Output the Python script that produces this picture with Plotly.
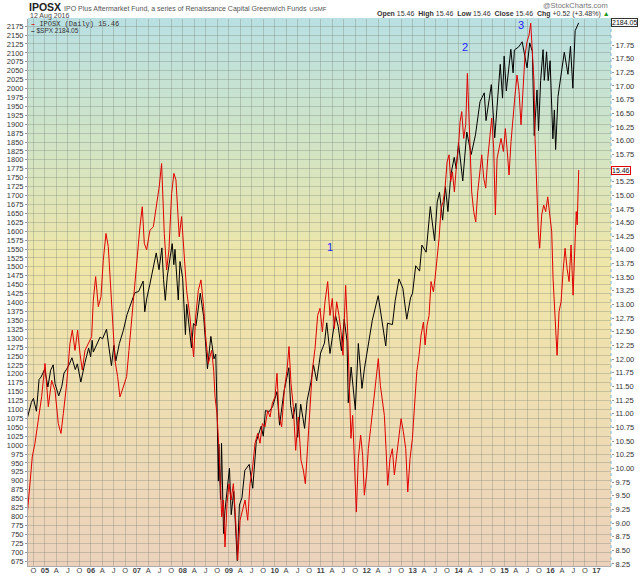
import pandas as pd
import plotly.graph_objects as go

# $SPX closes (left axis)
spx_dates = [
    "2004-08-16", "2004-09-01", "2004-09-15", "2004-10-01", "2004-10-25", "2004-11-15", "2004-12-01", "2004-12-30",
    "2005-01-24", "2005-02-15", "2005-03-07", "2005-03-22", "2005-04-20", "2005-05-15", "2005-06-01", "2005-06-22",
    "2005-07-15", "2005-08-03", "2005-08-30", "2005-09-15", "2005-10-13", "2005-11-15", "2005-12-14", "2005-12-30",
    "2006-01-11", "2006-01-20", "2006-02-15", "2006-03-15", "2006-04-03", "2006-04-21", "2006-05-05", "2006-05-25",
    "2006-06-13", "2006-07-03", "2006-07-18", "2006-08-15", "2006-09-15", "2006-10-15", "2006-11-15", "2006-12-15",
    "2007-01-15", "2007-02-20", "2007-03-05", "2007-03-20", "2007-04-15", "2007-05-15", "2007-06-04", "2007-06-26",
    "2007-07-19", "2007-08-01", "2007-08-15", "2007-08-31", "2007-09-18", "2007-10-09", "2007-10-22", "2007-10-31",
    "2007-11-26", "2007-12-10", "2007-12-31",
    "2008-01-22", "2008-02-01", "2008-02-15", "2008-03-10", "2008-03-26", "2008-04-15", "2008-05-19", "2008-06-15",
    "2008-07-15", "2008-08-11", "2008-09-05", "2008-09-19", "2008-09-29", "2008-10-10", "2008-10-13", "2008-10-27",
    "2008-11-04", "2008-11-20", "2008-12-01", "2008-12-15",
    "2009-01-06", "2009-01-20", "2009-02-09", "2009-03-09", "2009-03-26", "2009-04-15", "2009-05-08", "2009-06-12",
    "2009-07-10", "2009-08-07", "2009-09-15", "2009-10-02", "2009-10-19", "2009-11-15", "2009-12-15",
    "2010-01-19", "2010-02-08", "2010-03-15", "2010-04-23", "2010-05-07", "2010-05-25", "2010-06-18", "2010-07-02",
    "2010-07-26", "2010-08-26", "2010-09-15", "2010-10-15", "2010-11-05", "2010-11-30", "2010-12-31",
    "2011-01-31", "2011-02-18", "2011-03-16", "2011-04-29", "2011-05-20", "2011-06-15", "2011-07-07", "2011-07-29",
    "2011-08-08", "2011-08-31", "2011-09-22", "2011-10-03", "2011-10-27", "2011-11-25", "2011-12-15",
    "2012-01-15", "2012-02-15", "2012-04-02", "2012-04-23", "2012-06-01", "2012-06-15", "2012-07-24", "2012-08-15",
    "2012-09-14", "2012-10-15", "2012-11-15", "2012-12-15", "2012-12-31",
    "2013-01-25", "2013-02-25", "2013-03-15", "2013-04-18", "2013-05-21", "2013-06-24", "2013-07-15", "2013-08-02",
    "2013-08-27", "2013-09-18", "2013-10-08", "2013-10-31", "2013-11-27", "2013-12-13", "2013-12-31",
    "2014-02-03", "2014-03-07", "2014-04-11", "2014-05-15", "2014-06-20", "2014-07-24", "2014-08-07", "2014-09-18",
    "2014-10-15", "2014-11-28", "2014-12-16", "2014-12-29",
    "2015-01-15", "2015-02-20", "2015-03-10", "2015-03-20", "2015-04-24", "2015-05-21", "2015-06-15", "2015-06-29",
    "2015-07-20", "2015-08-10", "2015-08-25", "2015-09-16", "2015-09-28", "2015-10-15", "2015-11-03", "2015-11-13",
    "2015-12-01", "2015-12-14", "2015-12-29",
    "2016-01-20", "2016-02-01", "2016-02-11", "2016-03-01", "2016-03-15", "2016-04-20", "2016-05-19", "2016-06-08",
    "2016-06-27", "2016-07-15", "2016-08-12",
]
spx_close = [
    1079, 1105, 1120, 1131, 1095, 1184, 1191, 1213,
    1163, 1210, 1225, 1172, 1138, 1165, 1202, 1213,
    1228, 1245, 1212, 1228, 1177, 1232, 1272, 1248,
    1294, 1261, 1280, 1303, 1298, 1311, 1325, 1272,
    1223, 1280, 1236, 1285, 1321, 1366, 1397, 1427,
    1431, 1460, 1374, 1410, 1452, 1501, 1539, 1492,
    1553, 1465, 1406, 1474, 1519, 1565, 1506, 1549,
    1407, 1515, 1468,
    1310, 1395, 1349, 1273, 1341, 1334, 1426, 1360,
    1214, 1305, 1242, 1255, 1106, 899, 1003, 848,
    1005, 752, 816, 868,
    935, 805, 870, 676, 832, 852, 929, 946,
    879, 1010, 1053, 1025, 1097, 1093, 1108,
    1150, 1056, 1150, 1217, 1111, 1074, 1117, 1022,
    1115, 1047, 1125, 1176, 1225, 1180, 1258,
    1286, 1343, 1257, 1364, 1333, 1265, 1353, 1292,
    1119, 1219, 1130, 1099, 1285, 1159, 1216,
    1290, 1350, 1419, 1366, 1278, 1342, 1338, 1405,
    1466, 1440, 1353, 1413, 1426,
    1503, 1488, 1561, 1541, 1669, 1573, 1682, 1709,
    1631, 1725, 1655, 1757, 1807, 1775, 1848,
    1741, 1878, 1815, 1870, 1963, 1988, 1910, 2011,
    1862, 2068, 1973, 2091,
    1993, 2110, 2044, 2108, 2117, 2131, 2084, 2058,
    2128, 2104, 1868, 1996, 1882, 2023, 2109, 2023,
    2103, 2022, 2078,
    1859, 1940, 1829, 1978, 2016, 2102, 2040, 2119,
    2001, 2162, 2184.05,
]

# IPOSX (right axis): time as decimal year, value in $
iposx_t = [
    2004.623, 2004.674, 2004.724, 2004.782, 2004.855, 2004.927, 2005.000, 2005.073, 2005.145, 2005.218,
    2005.290, 2005.348, 2005.399, 2005.472, 2005.544, 2005.595, 2005.653, 2005.711, 2005.762, 2005.812,
    2005.871, 2005.943, 2006.016, 2006.052, 2006.103, 2006.161, 2006.219, 2006.269, 2006.328, 2006.378,
    2006.422, 2006.465, 2006.523, 2006.581, 2006.632, 2006.705, 2006.777, 2006.828, 2006.886, 2006.944,
    2006.995, 2007.067, 2007.118, 2007.162, 2007.213, 2007.285, 2007.358, 2007.430, 2007.488, 2007.539,
    2007.597, 2007.648, 2007.699, 2007.757, 2007.807, 2007.851, 2007.887, 2007.923, 2007.974, 2008.032,
    2008.083, 2008.156, 2008.206, 2008.235, 2008.279, 2008.337, 2008.395, 2008.453, 2008.497, 2008.555,
    2008.627, 2008.671, 2008.700, 2008.743, 2008.787, 2008.816, 2008.845, 2008.881, 2008.917, 2008.961,
    2009.004, 2009.048, 2009.099, 2009.149, 2009.193, 2009.244, 2009.295, 2009.353, 2009.411, 2009.461,
    2009.512, 2009.570, 2009.628, 2009.679, 2009.730, 2009.788, 2009.846, 2009.897, 2009.947, 2010.005,
    2010.049, 2010.092, 2010.150, 2010.208, 2010.267, 2010.310, 2010.354, 2010.404, 2010.455, 2010.513,
    2010.571, 2010.622, 2010.666, 2010.716, 2010.767, 2010.818,
    2010.876, 2010.934, 2010.985, 2011.036, 2011.094, 2011.152, 2011.202, 2011.253, 2011.297, 2011.348,
    2011.398, 2011.442, 2011.485, 2011.543, 2011.587, 2011.623, 2011.659, 2011.696, 2011.732, 2011.776,
    2011.819, 2011.870, 2011.913, 2011.950, 2012.000, 2012.037, 2012.087, 2012.145, 2012.196, 2012.254,
    2012.298, 2012.341, 2012.385, 2012.421, 2012.457, 2012.508, 2012.559, 2012.602, 2012.653, 2012.704,
    2012.748, 2012.798, 2012.849, 2012.893, 2012.943, 2012.994, 2013.038, 2013.089, 2013.139, 2013.183,
    2013.234, 2013.270, 2013.313, 2013.357, 2013.400, 2013.451, 2013.487, 2013.524, 2013.575, 2013.618,
    2013.662, 2013.705, 2013.749, 2013.792, 2013.828, 2013.865, 2013.908, 2013.959, 2013.995, 2014.032,
    2014.068, 2014.111, 2014.155, 2014.191, 2014.227, 2014.256, 2014.285, 2014.329, 2014.373, 2014.416,
    2014.460, 2014.503, 2014.547, 2014.590, 2014.634, 2014.684, 2014.721, 2014.764, 2014.800, 2014.837,
    2014.880, 2014.924, 2014.975, 2015.018, 2015.054, 2015.098, 2015.141, 2015.185, 2015.229, 2015.272,
    2015.316, 2015.359, 2015.403, 2015.446, 2015.490, 2015.533, 2015.570, 2015.606, 2015.642, 2015.664,
    2015.686, 2015.707, 2015.736, 2015.765, 2015.809, 2015.852, 2015.896, 2015.940, 2015.983, 2016.027,
    2016.056, 2016.085, 2016.114, 2016.143, 2016.186, 2016.230, 2016.273, 2016.317, 2016.360, 2016.404,
    2016.447, 2016.491, 2016.534, 2016.560, 2016.580, 2016.600, 2016.613,
]
iposx_close = [
    9.23, 9.72, 10.21, 10.46, 10.88, 11.31, 11.92, 11.13, 11.61, 11.43,
    10.82, 10.64, 11.00, 11.55, 12.29, 12.53, 12.16, 12.53, 12.10, 11.80,
    12.16, 12.29, 12.41, 13.08, 13.51, 12.96, 13.14, 13.81, 14.30, 14.06,
    13.45, 12.65, 11.98, 11.68, 11.31, 11.49, 11.68, 12.16, 12.71, 13.39,
    13.81, 14.42, 14.79, 14.12, 14.00, 14.36, 14.42, 14.85, 15.16, 15.58,
    14.30, 13.63, 14.00, 15.03, 15.40, 15.28, 14.61, 14.24, 14.61, 13.81,
    13.26, 12.77, 12.23, 12.04, 12.77, 13.26, 13.45, 12.96, 12.41, 11.92,
    12.16, 11.80, 11.31, 11.00, 10.33, 9.72, 9.11, 9.42, 8.56, 9.36,
    9.72, 9.42, 9.72, 9.05, 8.32, 9.05, 9.23, 9.42, 9.05, 9.72,
    9.97, 10.46, 10.64, 10.46, 10.82, 10.76, 11.06, 10.94, 11.19, 11.31,
    11.74, 10.94, 10.76, 11.43, 11.80, 12.23, 11.55, 11.13, 10.33, 10.94,
    10.15, 9.97, 9.72, 10.46, 11.25, 11.80,
    12.19, 12.80, 12.93, 12.50, 13.05, 13.42, 12.80, 13.11, 12.56, 13.05,
    12.80, 12.50, 12.07, 13.35, 12.50, 11.28, 10.55, 10.97, 10.30, 9.20,
    10.18, 10.61, 10.24, 9.51, 9.88, 10.36, 10.73, 11.22, 11.58, 12.01,
    11.52, 11.28, 10.97, 10.36, 9.69, 10.18, 10.36, 9.88, 10.24, 10.49,
    10.91, 10.67, 10.36, 9.57, 10.18, 10.55, 11.10, 11.77, 12.07, 12.44,
    12.68, 12.26, 12.62, 12.80, 13.42, 13.23, 13.48, 13.78, 14.21, 14.76,
    14.88, 15.13, 15.61, 15.74, 15.25, 15.43, 15.06, 15.61, 15.86, 16.35,
    16.53, 16.04, 16.29, 17.23, 16.47, 15.86, 15.06, 14.70, 14.51, 15.06,
    15.37, 15.74, 15.31, 15.13, 15.67, 16.10, 16.41, 15.86, 14.64, 15.67,
    15.86, 16.04, 15.80, 16.22, 15.86, 15.37, 15.98, 16.47, 16.84, 17.20,
    16.90, 16.29, 17.08, 17.57, 17.81, 17.93, 18.15, 17.63, 17.08, 16.04,
    15.37, 15.13, 14.33, 14.03, 14.64, 14.82, 14.70, 14.97, 14.64, 14.33,
    13.48, 12.99, 12.56, 12.07, 12.87, 13.05, 13.60, 14.03, 13.66, 13.42,
    14.09, 13.17, 14.15, 14.70, 14.46, 15.13, 15.46,
]

# wave labels drawn on the chart (date, $SPX level)
wave_labels = ["1", "2", "3"]
wave_dates = ["2011-03-14", "2014-02-21", "2015-05-11"]
wave_levels = [1555, 2116, 2178]

# right axis labels (15.50 sits under the last-value tag)
iposx_ticks = [8.25 + 0.25 * i for i in range(39) if abs(8.25 + 0.25 * i - 15.5) > 1e-9]


def year_frac_to_date(t):
    y = int(t)
    start = pd.Timestamp(y, 1, 1)
    return start + (pd.Timestamp(y + 1, 1, 1) - start) * (t - y)


iposx_dates = [year_frac_to_date(t) for t in iposx_t]

# quarterly x ticks: year number at Jan, month letter otherwise
tick_dates = []
tick_text = []
month_letter = {4: "A", 7: "J", 10: "O"}
for yr in range(2004, 2018):
    for m in (1, 4, 7, 10):
        d = pd.Timestamp(yr, m, 1)
        if d < pd.Timestamp(2004, 10, 1) or d > pd.Timestamp(2017, 1, 1):
            continue
        tick_dates.append(d)
        tick_text.append("<b>%02d</b>" % (yr % 100) if m == 1 else month_letter[m])

FONT = "Liberation Sans"
W, H = 640, 576
L, R, T, B = 28, 29, 19, 10
PW, PH = W - L - R, H - T - B


def py(pix):  # pixel row -> paper y
    return (H - B - pix) / PH


def px(pix):  # pixel column -> paper x
    return (pix - L) / PW


# background gradient of the plot area: teal -> yellow -> tan
stops = [(0.0, (236, 210, 188)), (0.3, (238, 222, 178)), (0.55, (240, 230, 168)),
         (0.78, (208, 228, 198)), (1.0, (186, 224, 226))]


def grad(f):
    for (a, ca), (b, cb) in zip(stops[:-1], stops[1:]):
        if a <= f <= b:
            k = (f - a) / (b - a)
            return "rgb(%d,%d,%d)" % tuple(round(ca[i] + (cb[i] - ca[i]) * k) for i in range(3))
    return "rgb(%d,%d,%d)" % stops[-1][1]


N = 80
shapes = []
for i in range(N):
    shapes.append(dict(type="rect", xref="paper", yref="paper", x0=0, x1=1,
                       y0=i / N, y1=(i + 1) / N + 0.002, fillcolor=grad((i + 0.5) / N),
                       line=dict(width=0), layer="below"))
# dotted right border
shapes.append(dict(type="line", xref="paper", yref="paper", x0=1, x1=1, y0=0, y1=1,
                   line=dict(color="#7fb8d8", width=1, dash="dot")))

fig = go.Figure()
fig.add_trace(go.Scatter(x=iposx_dates, y=iposx_close, mode="lines", yaxis="y2",
                         line=dict(color="#e00000", width=1), name="IPOSX (Daily)"))
fig.add_trace(go.Scatter(x=pd.to_datetime(spx_dates), y=spx_close, mode="lines",
                         line=dict(color="#000000", width=1), name="$SPX"))

ann = []
ann.append(dict(xref="paper", yref="paper", x=px(27), y=py(7), xanchor="left", yanchor="middle",
                showarrow=False,
                text="<b>IPOSX</b> <span style='font-size:7px;color:#555'>IPO Plus Aftermarket Fund, "
                     "a series of Renaissance Capital Greenwich Funds</span> "
                     "<span style='font-size:6px;color:#555'>USMF</span>",
                font=dict(family=FONT, size=10.5, color="#222")))
ann.append(dict(xref="paper", yref="paper", x=px(28), y=py(15.5), xanchor="left", yanchor="middle",
                showarrow=False, text="12 Aug 2016", font=dict(family=FONT, size=7, color="#444")))
ann.append(dict(xref="paper", yref="paper", x=px(610), y=py(5.5), xanchor="right", yanchor="middle",
                showarrow=False, text="@StockCharts.com", font=dict(family=FONT, size=7.5, color="#777")))
ann.append(dict(xref="paper", yref="paper", x=px(612), y=py(14), xanchor="right", yanchor="middle",
                showarrow=False,
                text="<b>Open</b> 15.46  <b>High</b> 15.46  <b>Low</b> 15.46  <b>Close</b> 15.46  "
                     "<b>Chg</b> +0.52 (+3.48%) <span style='color:#1a9a1a'>▲</span>",
                font=dict(family=FONT, size=7, color="#333")))
# legend
ann.append(dict(xref="paper", yref="paper", x=px(29), y=py(23.5), xanchor="left", yanchor="middle",
                showarrow=False, text="<span style='color:#e00000'><b>–</b></span> IPOSX (Daily) 15.46",
                font=dict(family="Liberation Mono", size=7, color="#333")))
ann.append(dict(xref="paper", yref="paper", x=px(29), y=py(30.5), xanchor="left", yanchor="middle",
                showarrow=False, text="<b>–</b> $SPX 2184.05",
                font=dict(family=FONT, size=6.5, color="#333")))
# last value tags on the right
ann.append(dict(xref="paper", yref="y", x=1.0, y=2184.05, xanchor="left", yanchor="middle",
                showarrow=False, text="2184.05", bgcolor="white", bordercolor="#333", borderwidth=1,
                borderpad=0, font=dict(family=FONT, size=7, color="#111")))
ann.append(dict(xref="paper", yref="y2", x=1.0, y=15.46, xanchor="left", yanchor="middle",
                showarrow=False, text="15.46", bgcolor="white", bordercolor="#e00000", borderwidth=1,
                borderpad=0, font=dict(family=FONT, size=7, color="#111")))
for lab, d, lv in zip(wave_labels, wave_dates, wave_levels):
    ann.append(dict(x=d, y=lv, xref="x", yref="y", text=lab, showarrow=False,
                    font=dict(family=FONT, size=11, color="#1f1fff")))

grid = "rgba(110,120,110,0.30)"
fig.update_layout(
    width=W, height=H,
    margin=dict(l=L, r=R, t=T, b=B, autoexpand=False),
    paper_bgcolor="white",
    plot_bgcolor="rgba(0,0,0,0)",
    showlegend=False,
    shapes=shapes,
    annotations=ann,
    xaxis=dict(type="date", range=["2004-08-19", "2017-04-26"], tickvals=tick_dates, ticktext=tick_text,
               tickangle=0, showgrid=True, gridcolor=grid, gridwidth=1, zeroline=False, automargin=False,
               showline=True, linecolor="#aaa", linewidth=1, ticks="", ticklen=0, ticklabelstandoff=-3,
               tickfont=dict(family=FONT, size=7.5, color="#444")),
    yaxis=dict(range=[661, 2195], dtick=25, tick0=0, showgrid=True, gridcolor=grid, gridwidth=1,
               zeroline=False, showline=True, linecolor="#aaa", ticks="outside", ticklen=2, automargin=False,
               tickcolor="#999", tickfont=dict(family=FONT, size=7.5, color="#333")),
    yaxis2=dict(range=[8.213, 18.226], overlaying="y", side="right", tickvals=iposx_ticks,
                tickformat=".2f", showgrid=False, zeroline=False, ticks="outside", ticklen=2,
                automargin=False, tickcolor="#999", tickfont=dict(family=FONT, size=7.5, color="#333")),
)

# the page body has a default 8px margin; drop it so the figure sits at the window corner
fig.write_html("out.html", config={"displayModeBar": False},
               post_script="document.body.style.margin='0';")
